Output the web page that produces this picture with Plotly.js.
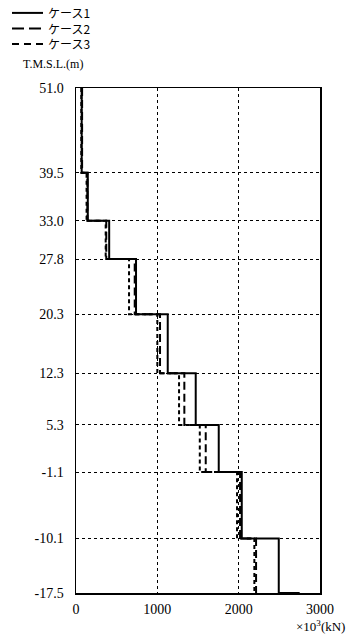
<!DOCTYPE html>
<html>
<head>
<meta charset="utf-8">
<script src="https://cdn.plot.ly/plotly-3.0.1.min.js"></script>
<style>html,body{margin:0;padding:0;background:#fff;}#chart{width:350px;height:639px;}</style>
</head>
<body>
<div id="chart"></div>
<script>
// Elevation levels (T.M.S.L., m) — segment boundaries
var levels = [51.0, 39.5, 33.0, 27.8, 20.3, 12.3, 5.3, -1.1, -10.1, -17.5];
var levelLabels = ["51.0", "39.5", "33.0", "27.8", "20.3", "12.3", "5.3", "-1.1", "-10.1", "-17.5"];
// Values per segment (×10^3 kN), top to bottom
var case1 = [70, 145, 408, 738, 1128, 1472, 1755, 2038, 2493];
var case2 = [75, 140, 372, 722, 1033, 1332, 1595, 2017, 2214];
var case3 = [65, 130, 365, 652, 1000, 1267, 1522, 1980, 2193];
// value of the next segment below the chart bottom (step drawn at -17.5)
var case1Below = 2750;
var xTicks = [0, 1000, 2000, 3000];
var seriesNames = ["ケース1", "ケース2", "ケース3"];

function stepXY(vals, below) {
  var x = [], y = [];
  for (var i = 0; i < vals.length; i++) {
    x.push(vals[i]); y.push(levels[i]);
    x.push(vals[i]); y.push(levels[i + 1]);
  }
  if (below !== undefined) { x.push(below); y.push(levels[levels.length - 1]); }
  return {x: x, y: y};
}

var s1 = stepXY(case1, case1Below), s2 = stepXY(case2), s3 = stepXY(case3);
var dashes = ["solid", "8px,4px", "4px,3px"];

var traces = [
  {x: s3.x, y: s3.y, mode: "lines", name: seriesNames[2], line: {color: "#000", width: 2, dash: dashes[2]}, cliponaxis: false},
  {x: s2.x, y: s2.y, mode: "lines", name: seriesNames[1], line: {color: "#000", width: 2, dash: dashes[1]}, cliponaxis: false},
  {x: s1.x, y: s1.y, mode: "lines", name: seriesNames[0], line: {color: "#000", width: 2, dash: dashes[0]}, cliponaxis: false}
];

var L = 76, R = 30, T = 88, B = 46, W = 350, H = 639;
var pw = W - L - R, ph = H - T - B;
function px(x) { return (x - L) / pw; }
function py(y) { return (H - B - y) / ph; }

var serif = "Liberation Serif, Noto Sans CJK JP, serif";
var shapes = [], annotations = [];
var legFont = 12, lineGap = legFont * 1.3, midY = 28.5;
for (var k = 0; k < 3; k++) {
  var ry = midY + (k - 1) * lineGap;
  shapes.push({type: "line", xref: "paper", yref: "paper", x0: px(12), x1: px(43), y0: py(ry), y1: py(ry),
    line: {color: "#000", width: 2, dash: k === 0 ? "solid" : (k === 1 ? "12px,5px" : "7px,5px")}});
}
annotations.push({xref: "paper", yref: "paper", x: px(46), y: py(midY), xanchor: "left", yanchor: "middle", align: "left",
  text: seriesNames.join("<br>"), showarrow: false,
  font: {family: "Noto Sans CJK JP, Noto Sans CJK SC, sans-serif", size: legFont, color: "#000"}});
annotations.push({xref: "paper", yref: "paper", x: px(21), y: py(64), xanchor: "left", yanchor: "middle",
  text: "T.M.S.L.(m)", showarrow: false, font: {family: serif, size: 12, color: "#000"}});
annotations.push({xref: "paper", yref: "paper", x: px(347), y: py(626), xanchor: "right", yanchor: "middle",
  text: "×10<sup>3</sup>(kN)", showarrow: false, font: {family: serif, size: 13, color: "#000"}});

var layout = {
  width: W, height: H,
  margin: {l: L, r: R, t: T, b: B, pad: 0},
  paper_bgcolor: "#fff", plot_bgcolor: "#fff",
  showlegend: false,
  font: {family: serif, size: 14, color: "#000"},
  xaxis: {range: [0, 3000], tickvals: xTicks, ticktext: xTicks.map(String), showgrid: true, griddash: "dot",
    gridcolor: "#000", gridwidth: 1, showline: true, linecolor: "#000", linewidth: 1.5, mirror: true,
    ticks: "", zeroline: false, ticklabelstandoff: 3, tickfont: {family: serif, size: 14, color: "#000"}},
  yaxis: {range: [-17.5, 51], tickvals: levels, ticktext: levelLabels, showgrid: true, griddash: "dot",
    gridcolor: "#000", gridwidth: 1, showline: true, linecolor: "#000", linewidth: 1.5, mirror: true,
    ticks: "", zeroline: false, ticklabelstandoff: 8, tickfont: {family: serif, size: 14, color: "#000"}},
  shapes: shapes,
  annotations: annotations
};

Plotly.newPlot("chart", traces, layout, {staticPlot: true, displayModeBar: false});
</script>
</body>
</html>
